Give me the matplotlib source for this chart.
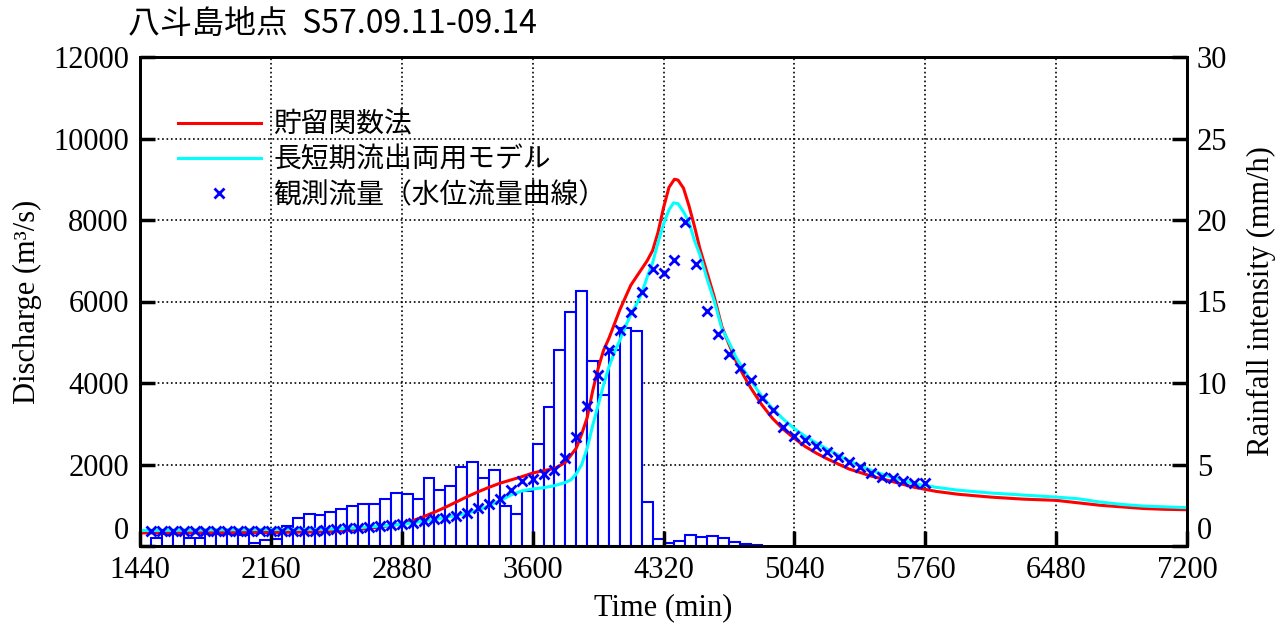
# 八斗島地点 hydrograph: storage function vs long/short term runoff model
import numpy as np
import matplotlib
matplotlib.use('Agg')
import matplotlib.pyplot as plt

plt.rcParams['font.family'] = ['Liberation Serif', 'Noto Sans CJK JP', 'DejaVu Sans']
JP = ['Noto Sans CJK JP', 'DejaVu Sans']

# hourly rainfall (mm/h), bars start at 1440 min
rain_start = 1440
rain = [0, 0.5, 0.75, 0.75, 0.5, 0.5, 0.75, 0.75, 0.75, 0.7,
        0.2, 0.35, 0.45, 1.22, 1.72, 1.98, 1.88, 2.06, 2.27, 2.43,
        2.55, 2.6, 2.9, 3.28, 3.22, 2.87, 4.2, 3.42, 3.69, 4.82,
        5.13, 4.16, 4.65, 2.47, 1.94, 3.4, 6.24, 8.52, 12.05, 14.35,
        15.65, 11.38, 9.25, 12.05, 13.37, 13.21, 2.7, 0.44, 0.18, 0.33,
        0.67, 0.53, 0.59, 0.51, 0.22, 0.12, 0.06]

# observed discharge (rating curve), hourly from 1500 min
obs_start = 1500
obs = [366, 366, 366, 366, 366, 366, 366, 366, 366, 366,
       366, 366, 370, 375, 378, 380, 390, 407, 431, 447,
       472, 488, 512, 533, 569, 610, 655, 699, 748, 805,
       943, 1020, 1146, 1366, 1600, 1650, 1765, 1860, 2157, 2672,
       3433, 4198, 4805, 5300, 5735, 6233, 6797, 6691, 7013, 7943,
       6915, 5772, 5211, 4715, 4374, 4065, 3642, 3333, 2911, 2707,
       2602, 2455, 2317, 2179, 2057, 1935, 1789, 1691, 1675, 1593,
       1553, 1545]

# storage function method
red_t = [1440, 1800, 2160, 2400, 2520, 2640, 2760, 2880, 2940, 3000,
         3060, 3120, 3180, 3240, 3300, 3360, 3420, 3480, 3540, 3600,
         3660, 3720, 3780, 3840, 3870, 3900, 3930, 3960, 3990, 4020,
         4050, 4080, 4110, 4140, 4170, 4200, 4230, 4260, 4290, 4320,
         4350, 4380, 4400, 4430, 4460, 4490, 4520, 4560, 4600, 4640,
         4680, 4720, 4760, 4800, 4860, 4920, 4980, 5040, 5100, 5160,
         5220, 5340, 5460, 5580, 5700, 5820, 5940, 6120, 6300, 6480,
         6600, 6720, 6840, 6960, 7080, 7200]
red_q = [320, 325, 333, 345, 360, 400, 470, 540, 620, 720,
         830, 950, 1080, 1210, 1330, 1440, 1540, 1620, 1700, 1790,
         1850, 1900, 2050, 2400, 2750, 3150, 3800, 4350, 4800, 5100,
         5450, 5800, 6100, 6400, 6600, 6800, 7000, 7250, 7700, 8300,
         8800, 9000, 8980, 8780, 8350, 7850, 7300, 6700, 6100, 5400,
         4950, 4530, 4190, 3880, 3470, 3130, 2860, 2640, 2440, 2280,
         2140, 1890, 1720, 1580, 1440, 1340, 1270, 1200, 1150, 1120,
         1060, 1000, 960, 920, 900, 890]

# long/short term runoff model
cyan_t = [1440, 1800, 2160, 2400, 2520, 2640, 2760, 2880, 2940, 3000,
          3060, 3120, 3180, 3240, 3300, 3360, 3420, 3480, 3540, 3600,
          3660, 3720, 3780, 3810, 3840, 3870, 3900, 3930, 3960, 3990,
          4020, 4050, 4080, 4110, 4140, 4170, 4200, 4230, 4260, 4290,
          4320, 4350, 4375, 4400, 4430, 4460, 4490, 4520, 4560, 4600,
          4640, 4680, 4720, 4760, 4800, 4860, 4920, 4980, 5040, 5100,
          5160, 5220, 5340, 5460, 5580, 5700, 5820, 5940, 6120, 6300,
          6480, 6600, 6720, 6840, 6960, 7080, 7200]
cyan_q = [380, 400, 407, 410, 420, 447, 490, 533, 569, 610,
          655, 700, 750, 805, 880, 990, 1110, 1250, 1350, 1400,
          1430, 1480, 1560, 1620, 1770, 2000, 2400, 2950, 3450, 3950,
          4400, 4750, 5050, 5380, 5680, 5920, 6200, 6600, 6950, 7450,
          7900, 8250, 8420, 8400, 8200, 7950, 7500, 7150, 6550, 6000,
          5350, 5000, 4620, 4330, 4060, 3680, 3370, 3110, 2880, 2690,
          2530, 2380, 2090, 1860, 1680, 1530, 1440, 1370, 1300, 1250,
          1200, 1160, 1080, 1020, 980, 960, 940]

rain_t = rain_start + 60 * np.arange(len(rain))
obs_t = obs_start + 60 * np.arange(len(obs))

fig = plt.figure(figsize=(12.88, 6.25), dpi=100)
ax = fig.add_axes([0.1087, 0.1264, 0.8129, 0.7824])
axr = ax.twinx()
ax.set_zorder(axr.get_zorder() + 1)
ax.patch.set_visible(False)
axr.patch.set_visible(True)
axr.patch.set_facecolor('white')

# rainfall bars, white filled so they cover the grid
axr.bar(rain_t, rain, width=60, align='edge', facecolor='white',
        edgecolor='blue', linewidth=1.5)
axr.set_axisbelow(True)
axr.xaxis.set_visible(True)
axr.tick_params(axis='x', bottom=False, top=False, labelbottom=False)
axr.grid(True, color='black', linestyle=':', linewidth=1.2)

ax.plot(red_t, red_q, color='red', lw=2.2, label='貯留関数法')
ax.plot(cyan_t, cyan_q, color='cyan', lw=2.2, label='長短期流出両用モデル')
ax.plot(obs_t, obs, 'x', color='blue', ms=7, mew=2, label='観測流量（水位流量曲線）')

ax.set_xlim(1440, 7200)
ax.set_ylim(0, 12000)
axr.set_ylim(0, 30)
ax.set_xticks(np.arange(1440, 7201, 720))
ax.set_yticks(np.arange(0, 12001, 2000))
axr.set_yticks(np.arange(0, 31, 5))

ax.tick_params(direction='in', length=11, width=2.5, labelsize=22,
               top=False, right=False)
ax.tick_params(axis='y', pad=8)
ax.tick_params(axis='x', pad=7)
axr.tick_params(axis='y', direction='in', length=11, width=2.5, labelsize=22, pad=7)
for s in ax.spines.values():
    s.set_linewidth(2)
for s in axr.spines.values():
    s.set_linewidth(2)

# the zero labels sit just above the bottom axis line
ax.get_yticklabels()[0].set_va('bottom')
axr.get_yticklabels()[0].set_va('bottom')

ax.set_xlabel('Time (min)', fontsize=22, labelpad=6)
ax.set_ylabel('Discharge (m³/s)', fontsize=22, labelpad=8)
axr.set_ylabel('Rainfall intensity (mm/h)', fontsize=22, labelpad=14)

leg = ax.legend(loc='upper left', bbox_to_anchor=(0.012, 0.943), frameon=False,
                handlelength=3.0, handletextpad=0.45, labelspacing=0.18,
                prop={'family': JP, 'size': 20})

fig.text(0.099, 0.962, '八斗島地点  S57.09.11-09.14', family=JP, fontsize=23,
         ha='left', va='center')

fig.savefig('out.png', dpi=100)
